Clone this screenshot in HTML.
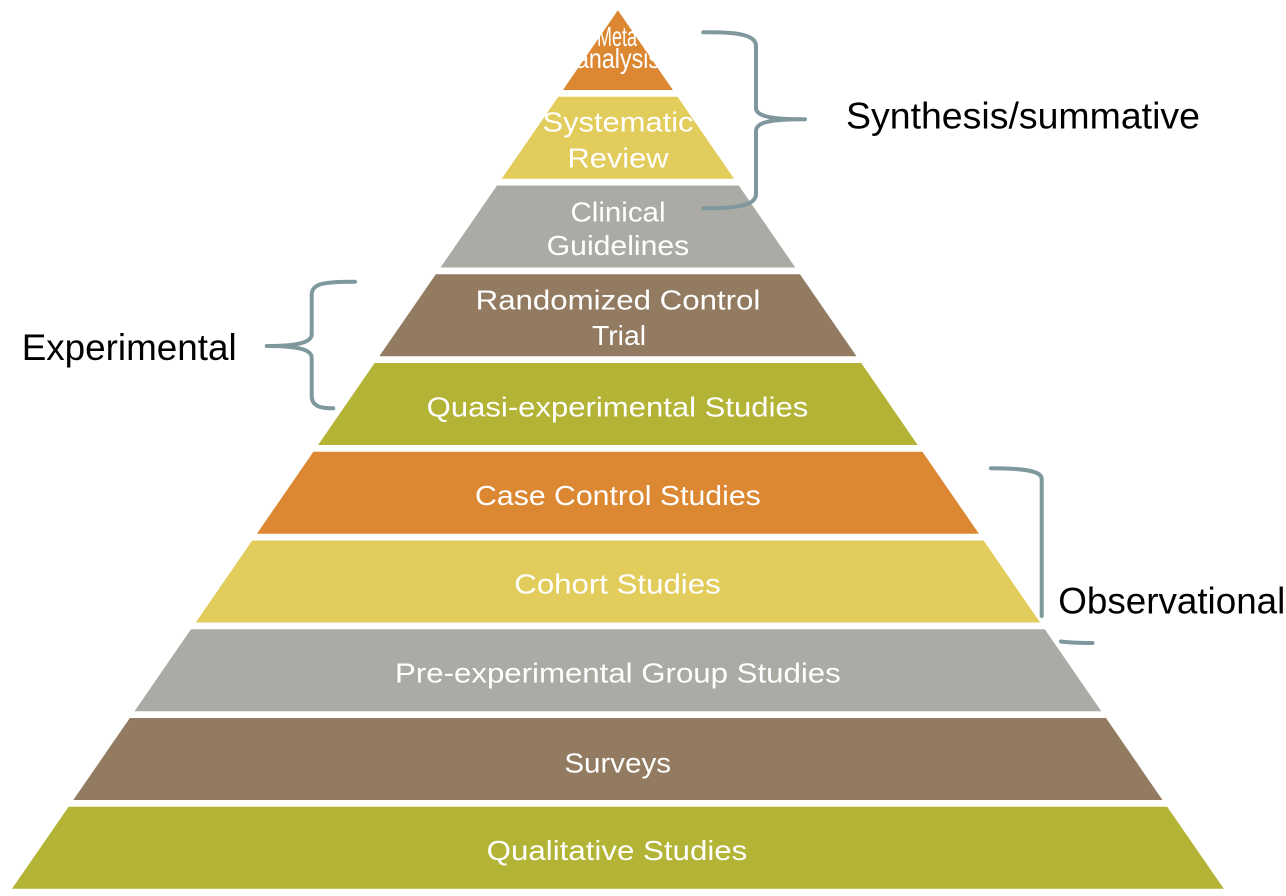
<!DOCTYPE html>
<html>
<head>
<meta charset="utf-8">
<style>
  html, body { margin: 0; padding: 0; background: #ffffff; }
  body { width: 1286px; height: 896px; overflow: hidden; }
  svg { display: block; }
  .lbl { font-family: "Liberation Sans", Arial, sans-serif; fill: #ffffff; font-size: 28px; }
  .side { font-family: "Liberation Sans", Arial, sans-serif; fill: #000000; font-size: 37px; }
</style>
</head>
<body>
<svg width="1286" height="896" viewBox="0 0 1286 896" xmlns="http://www.w3.org/2000/svg">
  <rect x="0" y="0" width="1286" height="896" fill="#ffffff"/>

  <!-- Pyramid layers -->
  <polygon points="617.9,10.2 672.9,90 562.9,90" fill="#DC8732"/>
  <polygon points="558.25,96.7 677.55,96.7 734.1,178.7 501.7,178.7" fill="#E2CC5B"/>
  <polygon points="497.0,185.5 738.8,185.5 795.3,267.5 440.5,267.5" fill="#ABABA6"/>
  <polygon points="435.85,274.2 799.95,274.2 856.5,356.2 379.3,356.2" fill="#927B60"/>
  <polygon points="374.6,363 861.2,363 917.7,445 318.1,445" fill="#B3B335"/>
  <polygon points="313.4,451.7 922.4,451.7 978.9,533.7 256.9,533.7" fill="#DC8732"/>
  <polygon points="252.2,540.5 983.6,540.5 1040.1,622.5 195.7,622.5" fill="#E2CC5B"/>
  <polygon points="191.0,629.2 1044.8,629.2 1101.3,711.2 134.5,711.2" fill="#ABABA6"/>
  <polygon points="129.8,718 1106.0,718 1162.5,800 73.3,800" fill="#927B60"/>
  <polygon points="68.6,806.7 1167.2,806.7 1223.8,888.7 12.0,888.7" fill="#B3B335"/>

  <!-- Pyramid labels -->
  <text class="lbl" x="597" y="46" font-size="19" textLength="46" lengthAdjust="spacingAndGlyphs">Meta-</text>
  <text class="lbl" x="618" y="68" text-anchor="middle" font-size="20" textLength="84" lengthAdjust="spacingAndGlyphs">analysis</text>
  <text class="lbl" x="618" y="131.7" text-anchor="middle" textLength="151" lengthAdjust="spacingAndGlyphs">Systematic</text>
  <text class="lbl" x="618" y="167.7" text-anchor="middle" textLength="101" lengthAdjust="spacingAndGlyphs">Review</text>
  <text class="lbl" x="618" y="221.7" text-anchor="middle" textLength="95" lengthAdjust="spacingAndGlyphs">Clinical</text>
  <text class="lbl" x="618" y="255" text-anchor="middle" textLength="142.6" lengthAdjust="spacingAndGlyphs">Guidelines</text>
  <text class="lbl" x="618" y="309.3" text-anchor="middle" textLength="284.7" lengthAdjust="spacingAndGlyphs">Randomized Control</text>
  <text class="lbl" x="619" y="345" text-anchor="middle" textLength="54" lengthAdjust="spacingAndGlyphs">Trial</text>
  <text class="lbl" x="617.5" y="416.7" text-anchor="middle" textLength="381.6" lengthAdjust="spacingAndGlyphs">Quasi-experimental Studies</text>
  <text class="lbl" x="617.9" y="505" text-anchor="middle" textLength="285.7" lengthAdjust="spacingAndGlyphs">Case Control Studies</text>
  <text class="lbl" x="617.5" y="593.3" text-anchor="middle" textLength="206.4" lengthAdjust="spacingAndGlyphs">Cohort Studies</text>
  <text class="lbl" x="617.9" y="682.7" text-anchor="middle" textLength="445.7" lengthAdjust="spacingAndGlyphs">Pre-experimental Group Studies</text>
  <text class="lbl" x="617.7" y="772.3" text-anchor="middle" textLength="106.7" lengthAdjust="spacingAndGlyphs">Surveys</text>
  <text class="lbl" x="617" y="860" text-anchor="middle" textLength="260.6" lengthAdjust="spacingAndGlyphs">Qualitative Studies</text>

  <!-- Synthesis brace -->
  <path d="M703.3,32.3 C735,32 756,34 756,46 L756,108 C756,116 770,119.3 805,119.3 C770,119.3 756,122 756,131 L756,194 C756,206 735,208.3 703.3,208.3"
        fill="none" stroke="#7F989D" stroke-width="4" stroke-linecap="round" stroke-linejoin="round"/>

  <!-- Experimental brace -->
  <path d="M355,281.7 C325,281.7 311.7,283 311.7,295 L311.7,334 C311.7,342 300,346 266.7,346 C300,346 311.7,350 311.7,358 L311.7,396 C311.7,406 320,408.3 333.3,408.3"
        fill="none" stroke="#7F989D" stroke-width="4" stroke-linecap="round" stroke-linejoin="round"/>

  <!-- Observational bracket (visible parts) -->
  <path d="M991,468.3 C1020,468.3 1041.7,470 1041.7,479 L1041.7,616"
        fill="none" stroke="#7F989D" stroke-width="4" stroke-linecap="round" stroke-linejoin="round"/>
  <path d="M1061,641.5 C1072,643 1080,643 1092.5,643"
        fill="none" stroke="#7F989D" stroke-width="4" stroke-linecap="round"/>

  <!-- Side labels -->
  <text class="side" x="846" y="128.3" textLength="354" lengthAdjust="spacingAndGlyphs">Synthesis/summative</text>
  <text class="side" x="21.7" y="360" textLength="215" lengthAdjust="spacingAndGlyphs">Experimental</text>
  <text class="side" x="1058.3" y="613.3" textLength="227" lengthAdjust="spacingAndGlyphs">Observational</text>
</svg>
</body>
</html>
